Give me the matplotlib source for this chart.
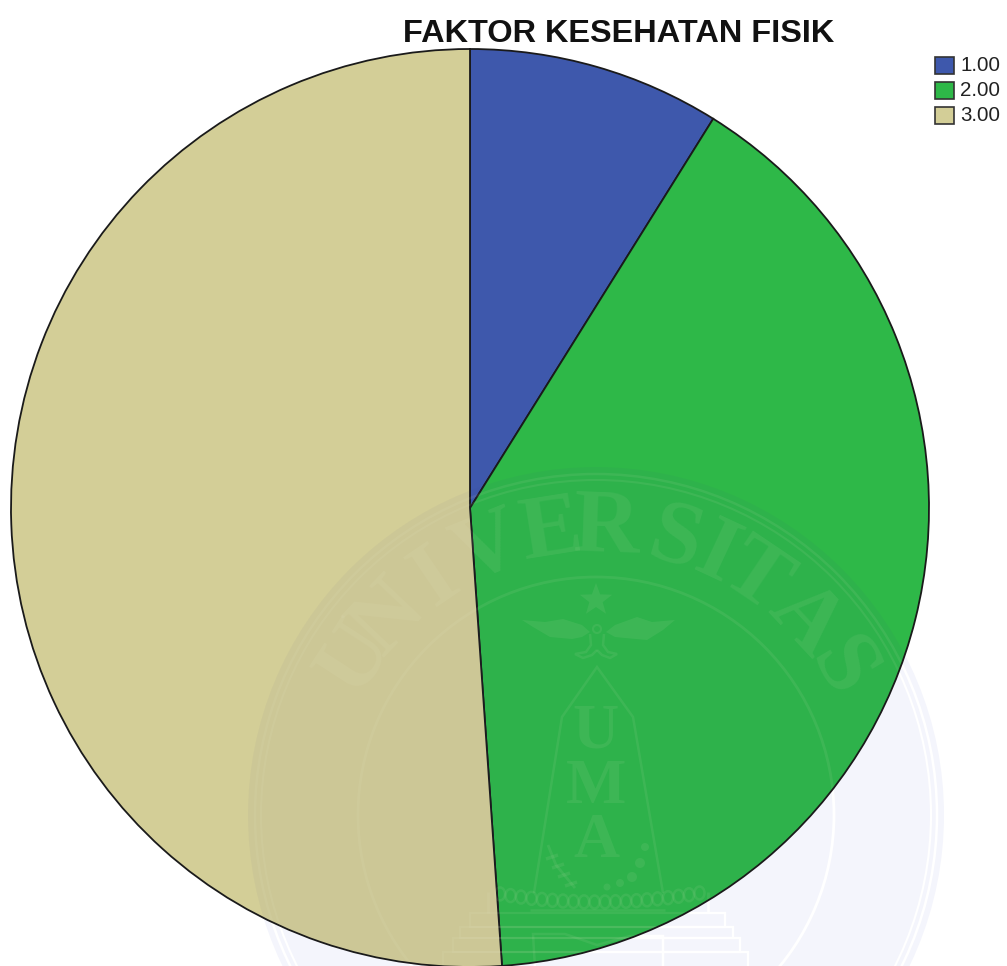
import numpy as np
import matplotlib
matplotlib.use("Agg")
import matplotlib.pyplot as plt
from matplotlib.patches import Circle, Polygon, Rectangle, Ellipse

TITLE = "FAKTOR KESEHATAN FISIK"
categories = ["1.00", "2.00", "3.00"]
counts = [4, 18, 23]
colors = ["#3e58ac", "#2eb848", "#d3ce97"]

W, H = 1007, 966
fig = plt.figure(figsize=(W / 100, H / 100), dpi=100, facecolor="white")
ax = fig.add_axes([0, 0, 1, 1])

CX, CY, R = 470, -508, 459
SX, SY = 596, -815


def seal(color, alpha, z, clip=None):
    """University watermark; lines and letters in pixel coordinates (y negative, downwards)."""
    arts = []
    kw = dict(facecolor="none", edgecolor=color, alpha=alpha, zorder=z)
    fill = dict(facecolor=color, edgecolor="none", alpha=alpha, zorder=z)

    def poly(pts, closed=False, lw=1.5):
        arts.append(ax.add_patch(Polygon([(x, -y) for x, y in pts], closed=closed, linewidth=lw, **kw)))

    def solid(pts):
        arts.append(ax.add_patch(Polygon([(x, -y) for x, y in pts], closed=True, **fill)))

    for r, lw in [(341, 1.8), (335, 1.5), (238, 2.0)]:
        arts.append(ax.add_patch(Circle((SX, SY), r, linewidth=lw, **kw)))
    letters = "UNIVERSITAS"
    angles = [-57, -46.5, -34, -22, -9, 2, 16, 25, 34, 47, 59]
    for ch, a in zip(letters, angles):
        t = np.radians(a)
        arts.append(ax.text(SX + 285 * np.sin(t), SY + 285 * np.cos(t), ch, rotation=-a,
                            rotation_mode="anchor", ha="center", va="center",
                            family="Liberation Serif", fontsize=66, fontweight="bold",
                            color=color, alpha=alpha, zorder=z))
    for ch, y in [("U", 733), ("M", 788), ("A", 842)]:
        arts.append(ax.text(SX, -y, ch, ha="center", va="center", family="Liberation Serif",
                            fontweight="bold", fontsize=46, color=color, alpha=alpha, zorder=z))
    # star
    solid([(SX + (17 if i % 2 == 0 else 7) * np.sin(i * np.pi / 5),
            600 - (17 if i % 2 == 0 else 7) * np.cos(i * np.pi / 5)) for i in range(10)])
    # bird: wings, head ring, tail curls
    solid([(522, 620), (545, 622), (563, 619), (582, 625), (590, 632), (582, 637), (572, 639),
           (550, 637), (533, 627)])
    solid([(675, 620), (652, 622), (637, 617), (615, 625), (606, 632), (615, 637), (625, 638),
           (647, 640), (663, 630)])
    arts.append(ax.add_patch(Circle((597, -629), 4, linewidth=1.5, **kw)))
    poly([(590, 634), (591, 645), (586, 652), (575, 654), (583, 658), (592, 655), (597, 650)], lw=1.8)
    poly([(604, 634), (603, 645), (608, 652), (617, 654), (610, 658), (602, 655), (597, 650)], lw=1.8)
    # monument outline
    poly([(534, 893), (562, 717), (597, 667), (633, 717), (663, 893)], lw=1.8)
    # wreath: wheat branch on the left, berries on the right
    poly([(548, 845), (556, 865), (575, 888)], lw=2)
    for x, y in [(552, 857), (558, 866), (564, 875), (571, 884)]:
        poly([(x - 6, y + 2), (x + 6, y - 2)], lw=2.5)
    for x, y, r in [(607, 887, 3.5), (620, 883, 4), (632, 877, 5), (640, 863, 5), (645, 847, 4)]:
        arts.append(ax.add_patch(Circle((x, -y), r, **fill)))
    # bead row
    bead_x = np.arange(500, 710, 10.5)
    for x in bead_x:
        y = 902 - 10 * ((x - 597) / 108) ** 2
        arts.append(ax.add_patch(Ellipse((x, -y), 10, 13, linewidth=1.8, **kw)))
    # posts and steps
    poly([(488, 892), (488, 913)], lw=2)
    poly([(708, 892), (708, 913)], lw=2)
    poly([(530, 910), (665, 910)], lw=1.8)
    for x0, x1, y0, y1 in [(470, 725, 913, 927), (460, 733, 927, 938), (453, 740, 938, 952), (443, 748, 952, 968)]:
        arts.append(ax.add_patch(Rectangle((x0, -y1), x1 - x0, y1 - y0, linewidth=1.6, **kw)))
    poly([(535, 968), (533, 934), (565, 934), (597, 945), (630, 936), (663, 936), (663, 968)], lw=1.8)
    if clip is not None:
        for a in arts:
            a.set_clip_path(clip)


# watermark as seen on the white page, beneath the pie
ax.add_patch(Circle((SX, SY), 348, facecolor="#f4f5fc", edgecolor="none", zorder=0.5))
seal("white", 1.0, 0.6)

wedges, _ = ax.pie(counts, colors=colors, startangle=90, counterclock=False,
                   center=(CX, CY), radius=R,
                   wedgeprops=dict(edgecolor="#1a1a1a", linewidth=1.3), frame=True)
for w in wedges:
    w.set_zorder(1)

# watermark tint over the pie
clip = Circle((CX, CY), R - 1, transform=ax.transData)
tint = ax.add_patch(Circle((SX, SY), 348, facecolor="#3a3a90", edgecolor="none", alpha=0.045, zorder=2))
tint.set_clip_path(clip)
seal("#f0f0d0", 0.08, 2.1, clip)

ax.set_xlim(0, W)
ax.set_ylim(-H, 0)
ax.set_aspect("auto")
ax.axis("off")

ax.text(619, -30, TITLE, ha="center", va="center_baseline", family="Liberation Sans",
        fontweight="bold", fontsize=23.4, color="#111111", zorder=5)

for i, (lab, col) in enumerate(zip(categories, colors)):
    y = -(57 + i * 25)
    ax.add_patch(Rectangle((935, y - 17), 19, 17, facecolor=col, edgecolor="#333333", linewidth=1.2, zorder=5))
    ax.text(960, y - 8.5, lab, ha="left", va="center", family="Liberation Sans",
            fontsize=14.8, color="#222222", zorder=5)

fig.savefig("out.png", dpi=100, facecolor="white")
